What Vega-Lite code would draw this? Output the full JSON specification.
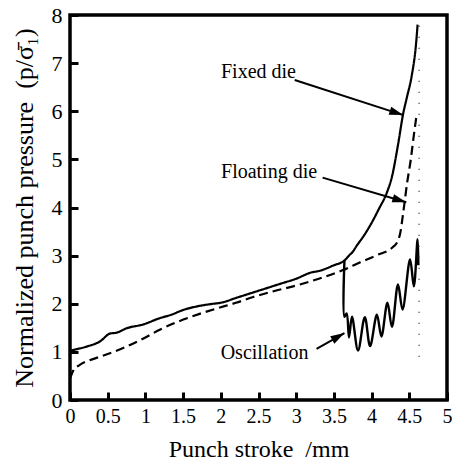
{
  "$schema": "https://vega.github.io/schema/vega-lite/v6.json",
  "width": 377,
  "height": 385,
  "autosize": {"type": "none"},
  "padding": {"left": 70, "top": 15, "right": 7, "bottom": 61},
  "background": "white",
  "config": {
    "font": "Liberation Serif",
    "view": {"stroke": "black", "strokeWidth": 3.5}
  },
  "datasets": {
    "curves": [
      {"series": "Fixed die", "i": 0, "stroke": 0.0, "p": 1.02},
      {"series": "Fixed die", "i": 1, "stroke": 0.1, "p": 1.06},
      {"series": "Fixed die", "i": 2, "stroke": 0.22, "p": 1.11},
      {"series": "Fixed die", "i": 3, "stroke": 0.4, "p": 1.22},
      {"series": "Fixed die", "i": 4, "stroke": 0.53, "p": 1.38},
      {"series": "Fixed die", "i": 5, "stroke": 0.62, "p": 1.4},
      {"series": "Fixed die", "i": 6, "stroke": 0.75, "p": 1.49},
      {"series": "Fixed die", "i": 7, "stroke": 0.97, "p": 1.57},
      {"series": "Fixed die", "i": 8, "stroke": 1.19, "p": 1.7},
      {"series": "Fixed die", "i": 9, "stroke": 1.34, "p": 1.77},
      {"series": "Fixed die", "i": 10, "stroke": 1.5, "p": 1.87},
      {"series": "Fixed die", "i": 11, "stroke": 1.7, "p": 1.95},
      {"series": "Fixed die", "i": 12, "stroke": 1.9, "p": 2.0},
      {"series": "Fixed die", "i": 13, "stroke": 2.0, "p": 2.02},
      {"series": "Fixed die", "i": 14, "stroke": 2.2, "p": 2.12},
      {"series": "Fixed die", "i": 15, "stroke": 2.4, "p": 2.22},
      {"series": "Fixed die", "i": 16, "stroke": 2.6, "p": 2.32},
      {"series": "Fixed die", "i": 17, "stroke": 2.8, "p": 2.42},
      {"series": "Fixed die", "i": 18, "stroke": 3.0, "p": 2.52},
      {"series": "Fixed die", "i": 19, "stroke": 3.2, "p": 2.65},
      {"series": "Fixed die", "i": 20, "stroke": 3.3, "p": 2.68},
      {"series": "Fixed die", "i": 21, "stroke": 3.5, "p": 2.8},
      {"series": "Fixed die", "i": 22, "stroke": 3.64, "p": 2.9},
      {"series": "Fixed die", "i": 23, "stroke": 3.7, "p": 3.0},
      {"series": "Fixed die", "i": 24, "stroke": 3.75, "p": 3.08},
      {"series": "Fixed die", "i": 25, "stroke": 3.8, "p": 3.2},
      {"series": "Fixed die", "i": 26, "stroke": 3.9, "p": 3.42},
      {"series": "Fixed die", "i": 27, "stroke": 4.0, "p": 3.68},
      {"series": "Fixed die", "i": 28, "stroke": 4.1, "p": 3.98},
      {"series": "Fixed die", "i": 29, "stroke": 4.2, "p": 4.3},
      {"series": "Fixed die", "i": 30, "stroke": 4.27, "p": 4.64},
      {"series": "Fixed die", "i": 31, "stroke": 4.35, "p": 5.3},
      {"series": "Fixed die", "i": 32, "stroke": 4.42, "p": 5.96},
      {"series": "Fixed die", "i": 33, "stroke": 4.47, "p": 6.3},
      {"series": "Fixed die", "i": 34, "stroke": 4.53, "p": 6.72},
      {"series": "Fixed die", "i": 35, "stroke": 4.59, "p": 7.41},
      {"series": "Fixed die", "i": 36, "stroke": 4.61, "p": 7.8},
      {"series": "Floating die", "i": 0, "stroke": 0.0, "p": 0.45},
      {"series": "Floating die", "i": 1, "stroke": 0.04, "p": 0.6},
      {"series": "Floating die", "i": 2, "stroke": 0.13, "p": 0.73},
      {"series": "Floating die", "i": 3, "stroke": 0.25, "p": 0.82},
      {"series": "Floating die", "i": 4, "stroke": 0.4, "p": 0.9},
      {"series": "Floating die", "i": 5, "stroke": 0.75, "p": 1.11},
      {"series": "Floating die", "i": 6, "stroke": 1.0, "p": 1.3},
      {"series": "Floating die", "i": 7, "stroke": 1.19, "p": 1.46},
      {"series": "Floating die", "i": 8, "stroke": 1.42, "p": 1.62},
      {"series": "Floating die", "i": 9, "stroke": 1.7, "p": 1.78},
      {"series": "Floating die", "i": 10, "stroke": 1.94, "p": 1.9},
      {"series": "Floating die", "i": 11, "stroke": 2.2, "p": 2.02},
      {"series": "Floating die", "i": 12, "stroke": 2.43, "p": 2.14},
      {"series": "Floating die", "i": 13, "stroke": 2.7, "p": 2.26},
      {"series": "Floating die", "i": 14, "stroke": 3.05, "p": 2.4},
      {"series": "Floating die", "i": 15, "stroke": 3.3, "p": 2.52},
      {"series": "Floating die", "i": 16, "stroke": 3.62, "p": 2.7},
      {"series": "Floating die", "i": 17, "stroke": 3.85, "p": 2.86},
      {"series": "Floating die", "i": 18, "stroke": 4.07, "p": 3.01},
      {"series": "Floating die", "i": 19, "stroke": 4.29, "p": 3.19},
      {"series": "Floating die", "i": 20, "stroke": 4.34, "p": 3.28},
      {"series": "Floating die", "i": 21, "stroke": 4.38, "p": 3.47},
      {"series": "Floating die", "i": 22, "stroke": 4.42, "p": 3.9},
      {"series": "Floating die", "i": 23, "stroke": 4.47, "p": 4.5},
      {"series": "Floating die", "i": 24, "stroke": 4.52, "p": 5.0},
      {"series": "Floating die", "i": 25, "stroke": 4.56, "p": 5.5},
      {"series": "Floating die", "i": 26, "stroke": 4.6, "p": 5.96},
      {"series": "Oscillation", "i": 0, "stroke": 3.64, "p": 2.9},
      {"series": "Oscillation", "i": 1, "stroke": 3.64, "p": 1.73},
      {"series": "Oscillation", "i": 2, "stroke": 3.67, "p": 1.8},
      {"series": "Oscillation", "i": 3, "stroke": 3.7, "p": 1.3},
      {"series": "Oscillation", "i": 4, "stroke": 3.74, "p": 1.73},
      {"series": "Oscillation", "i": 5, "stroke": 3.82, "p": 1.03},
      {"series": "Oscillation", "i": 6, "stroke": 3.91, "p": 1.72},
      {"series": "Oscillation", "i": 7, "stroke": 3.98, "p": 1.12},
      {"series": "Oscillation", "i": 8, "stroke": 4.07, "p": 1.77},
      {"series": "Oscillation", "i": 9, "stroke": 4.13, "p": 1.32},
      {"series": "Oscillation", "i": 10, "stroke": 4.21, "p": 2.02},
      {"series": "Oscillation", "i": 11, "stroke": 4.27, "p": 1.52},
      {"series": "Oscillation", "i": 12, "stroke": 4.35, "p": 2.4},
      {"series": "Oscillation", "i": 13, "stroke": 4.41, "p": 1.88},
      {"series": "Oscillation", "i": 14, "stroke": 4.51, "p": 2.92},
      {"series": "Oscillation", "i": 15, "stroke": 4.56, "p": 2.36},
      {"series": "Oscillation", "i": 16, "stroke": 4.61, "p": 3.34},
      {"series": "Oscillation", "i": 17, "stroke": 4.62, "p": 2.8}
    ],
    "labels": [
      {"label": "Fixed die", "stroke": 2.5, "p": 6.81},
      {"label": "Floating die", "stroke": 2.64, "p": 4.74},
      {"label": "Oscillation", "stroke": 2.58, "p": 0.97}
    ],
    "arrows": [
      {"label": "Fixed die", "stroke": 4.42, "p": 5.92, "stroke2": 2.98, "p2": 6.65},
      {"label": "Floating die", "stroke": 4.46, "p": 4.11, "stroke2": 3.35, "p2": 4.62},
      {"label": "Oscillation", "stroke": 3.64, "p": 1.39, "stroke2": 3.27, "p2": 1.06}
    ],
    "endStroke": [
      {"stroke": 4.63, "p": 0.9, "p2": 7.9}
    ]
  },
  "data": {"name": "curves"},
  "encoding": {
    "x": {
      "field": "stroke", "type": "quantitative",
      "scale": {"domain": [0, 5], "nice": false, "zero": false},
      "axis": {
        "values": [0, 0.5, 1, 1.5, 2, 2.5, 3, 3.5, 4, 4.5, 5],
        "labelExpr": "'' + datum.value",
        "zindex": 1,
        "ticks": true,
        "gridOpacity": 0,
        "domainOpacity": 0,
        "tickSize": -8,
        "tickWidth": 3,
        "tickColor": "black",
        "tickOpacity": 1,
        "labelOverlap": false,
        "labelFlush": false,
        "labelColor": "black",
        "labelFont": "Liberation Serif",
        "labelFontSize": 20,
        "labelPadding": 14,
        "title": "Punch stroke\u2002/mm",
        "titleFont": "Liberation Serif",
        "titleFontWeight": "normal",
        "titleColor": "black",
        "titleFontSize": 24,
        "titleBaseline": "alphabetic",
        "titleY": 56
      }
    },
    "y": {
      "field": "p", "type": "quantitative",
      "scale": {"domain": [0, 8], "nice": false},
      "axis": {
        "values": [0, 1, 2, 3, 4, 5, 6, 7, 8],
        "zindex": 1,
        "ticks": true,
        "gridOpacity": 0,
        "domainOpacity": 0,
        "tickSize": -8,
        "tickWidth": 3,
        "tickColor": "black",
        "tickOpacity": 1,
        "labelOverlap": false,
        "labelFlush": false,
        "labelColor": "black",
        "labelFont": "Liberation Serif",
        "labelFontSize": 22,
        "labelPadding": 16,
        "title": "Normalized punch pressure\u2002(p/σ̄₁)",
        "titleFont": "Liberation Serif",
        "titleFontWeight": "normal",
        "titleColor": "black",
        "titleFontSize": 26,
        "titleBaseline": "alphabetic",
        "titleX": -38
      }
    }
  },
  "layer": [
    {
      "transform": [{"filter": "datum.series !== 'Oscillation'"}],
      "mark": {"type": "line", "color": "black", "strokeWidth": 2.2, "interpolate": "monotone"},
      "encoding": {
        "detail": {"field": "series"},
        "order": {"field": "i"},
        "strokeDash": {
          "field": "series", "type": "nominal",
          "scale": {"domain": ["Fixed die", "Floating die"], "range": [[1, 0], [9, 5]]},
          "legend": null
        }
      }
    },
    {
      "transform": [{"filter": "datum.series === 'Oscillation'"}],
      "mark": {"type": "line", "color": "black", "strokeWidth": 2.4, "interpolate": "catmull-rom"},
      "encoding": {
        "order": {"field": "i"}
      }
    },
    {
      "data": {"name": "endStroke"},
      "mark": {"type": "rule", "color": "#444", "strokeWidth": 1.5, "strokeDash": [1, 10]},
      "encoding": {
        "y2": {"field": "p2"}
      }
    },
    {
      "data": {"name": "arrows"},
      "mark": {"type": "rule", "color": "black", "strokeWidth": 2},
      "encoding": {
        "x2": {"field": "stroke2"},
        "y2": {"field": "p2"}
      }
    },
    {
      "data": {"name": "arrows"},
      "transform": [{"filter": "datum.label === 'Fixed die'"}],
      "mark": {"type": "point", "shape": "M0,0L-2,-0.6L-2,0.6Z", "filled": true, "color": "black", "opacity": 1, "size": 196, "angle": 18},
      "encoding": {}
    },
    {
      "data": {"name": "arrows"},
      "transform": [{"filter": "datum.label === 'Floating die'"}],
      "mark": {"type": "point", "shape": "M0,0L-2,-0.6L-2,0.6Z", "filled": true, "color": "black", "opacity": 1, "size": 196, "angle": 16.5},
      "encoding": {}
    },
    {
      "data": {"name": "arrows"},
      "transform": [{"filter": "datum.label === 'Oscillation'"}],
      "mark": {"type": "point", "shape": "M0,0L-2,-0.6L-2,0.6Z", "filled": true, "color": "black", "opacity": 1, "size": 196, "angle": -29.6},
      "encoding": {}
    },
    {
      "data": {"name": "labels"},
      "mark": {"type": "text", "font": "Liberation Serif", "fontSize": 20, "color": "black", "align": "center", "baseline": "middle"},
      "encoding": {
        "text": {"field": "label"}
      }
    }
  ]
}
